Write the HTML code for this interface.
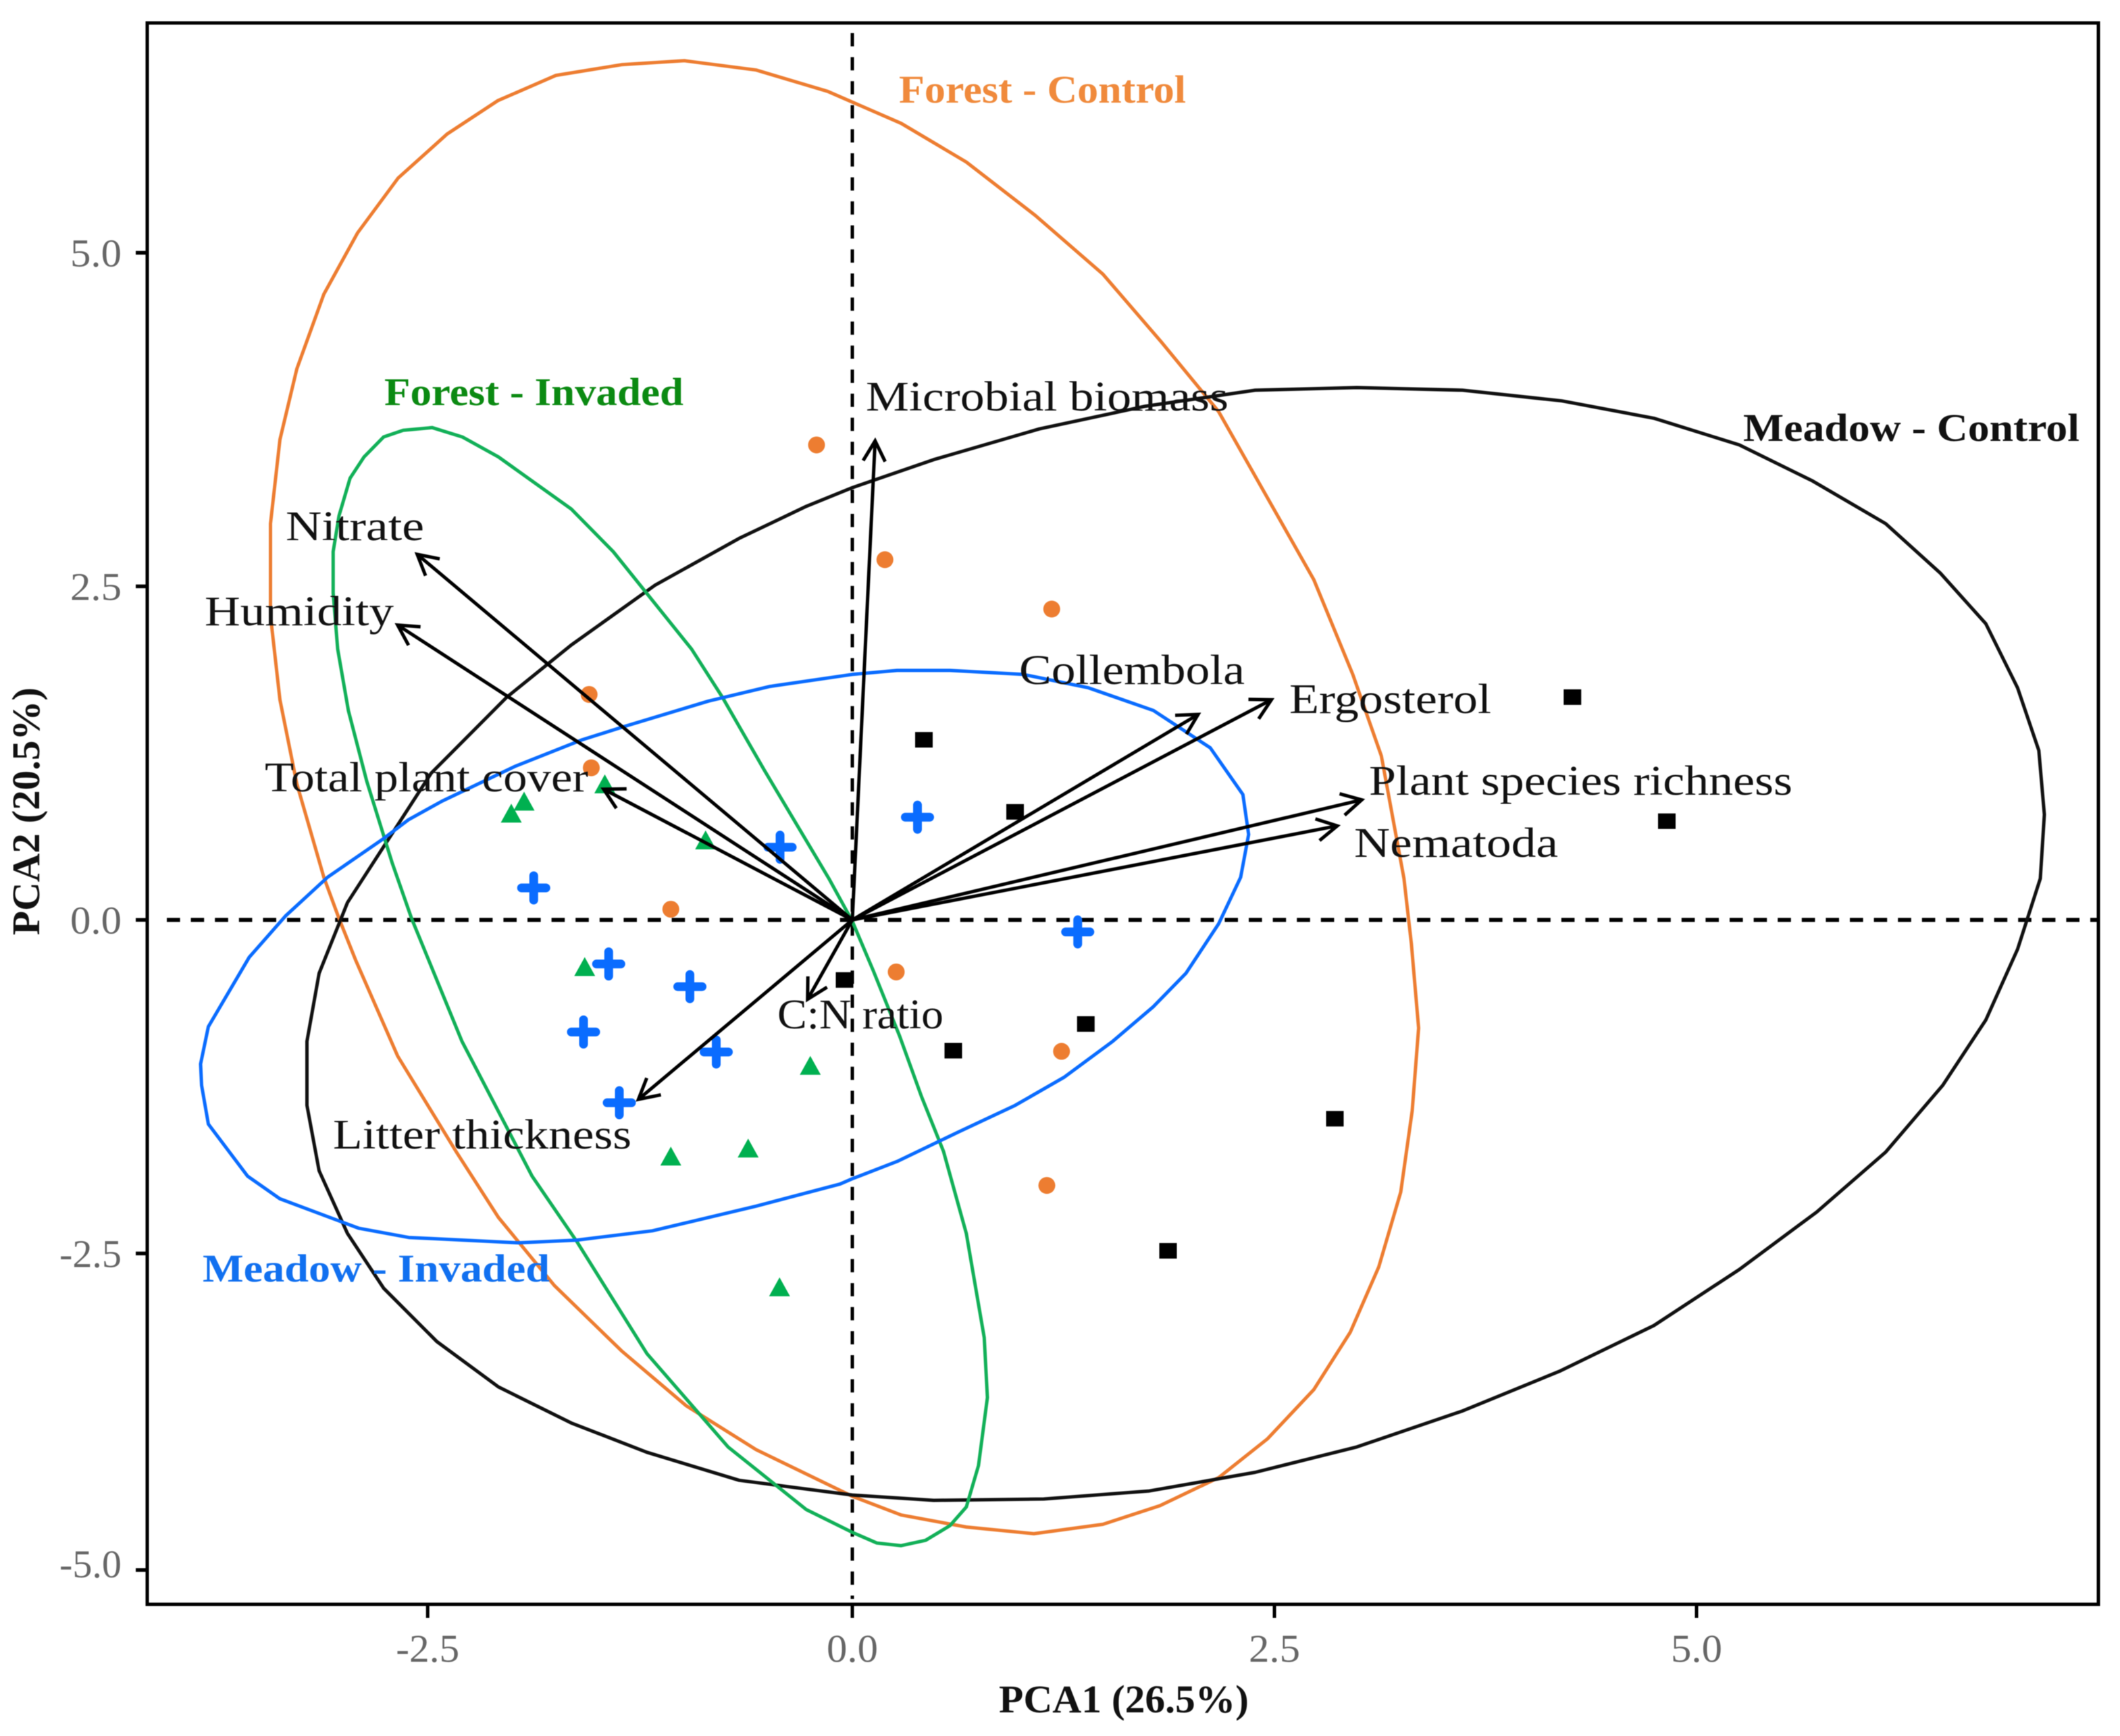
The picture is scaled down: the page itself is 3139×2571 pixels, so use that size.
<!DOCTYPE html>
<html lang="en">
<head>
<meta charset="utf-8">
<title>PCA biplot</title>
<style>
html,body{margin:0;padding:0;background:#fff;}
svg{display:block;filter:blur(0.6px);}
text{font-family:"Liberation Serif",serif;}
.loading{font-size:62px;fill:#111;}
.group{font-size:58px;font-weight:bold;}
.axis-title{font-size:58px;font-weight:bold;fill:#111;}
.tick{font-size:58px;fill:#666;}
</style>
</head>
<body>
<svg id="chart" xmlns="http://www.w3.org/2000/svg" width="3139" height="2571" viewBox="0 0 3139 2571">
  <rect x="0" y="0" width="3139" height="2571" fill="#fff"/>
  <g id="guides"></g>
  <g id="ellipses"></g>
  <g id="points"></g>
  <g id="arrows"></g>
  <g id="axes"></g>
  <rect x="218" y="34" width="2889" height="2342" fill="none" stroke="#000" stroke-width="5"/>

  <text class="loading" x="423" y="800" textLength="205" lengthAdjust="spacingAndGlyphs">Nitrate</text>
  <text class="loading" x="303" y="926" textLength="280" lengthAdjust="spacingAndGlyphs">Humidity</text>
  <text class="loading" x="392" y="1172" textLength="479" lengthAdjust="spacingAndGlyphs">Total plant cover</text>
  <text class="loading" x="1282" y="608" textLength="537" lengthAdjust="spacingAndGlyphs">Microbial biomass</text>
  <text class="loading" x="1509" y="1013" textLength="334" lengthAdjust="spacingAndGlyphs">Collembola</text>
  <text class="loading" x="1909" y="1056" textLength="299" lengthAdjust="spacingAndGlyphs">Ergosterol</text>
  <text class="loading" x="2027" y="1177" textLength="627" lengthAdjust="spacingAndGlyphs">Plant species richness</text>
  <text class="loading" x="2005" y="1269" textLength="302" lengthAdjust="spacingAndGlyphs">Nematoda</text>
  <text class="loading" x="1151" y="1523" textLength="246" lengthAdjust="spacingAndGlyphs">C:N ratio</text>
  <text class="loading" x="493" y="1701" textLength="442" lengthAdjust="spacingAndGlyphs">Litter thickness</text>

  <text class="group" x="1331" y="152" fill="#f08a3c" textLength="425" lengthAdjust="spacingAndGlyphs">Forest - Control</text>
  <text class="group" x="569" y="600" fill="#0b8a12" textLength="443" lengthAdjust="spacingAndGlyphs">Forest - Invaded</text>
  <text class="group" x="2581" y="653" fill="#111" textLength="498" lengthAdjust="spacingAndGlyphs">Meadow - Control</text>
  <text class="group" x="300" y="1898" fill="#1170f0" textLength="514" lengthAdjust="spacingAndGlyphs">Meadow - Invaded</text>

  <text class="axis-title" x="1479" y="2536" textLength="370" lengthAdjust="spacingAndGlyphs">PCA1 (26.5%)</text>
  <text class="axis-title" transform="translate(58 1385) rotate(-90)" x="0" y="0" textLength="367" lengthAdjust="spacingAndGlyphs">PCA2 (20.5%)</text>
</svg>
<script>
const xTickValues = [-2.515, 0, 2.5, 5];
const xTickLabels = ["-2.5", "0.0", "2.5", "5.0"];
const yTickValues = [5, 2.5, 0, -2.5, -4.872];
const yTickLabelValues = [5, 2.5, 0, -2.5, -4.826];
const yTickLabels = ["5.0", "2.5", "0.0", "-2.5", "-5.0"];

const forestControlEllipse = [[-0.995,6.44],[-0.57,6.37],[-0.146,6.21],[0.289,5.97],[0.675,5.68],[1.084,5.28],[1.484,4.84],[1.831,4.33],[2.169,3.81],[2.733,2.55],[2.964,1.84],[3.133,1.23],[3.267,0.31],[3.311,-0.18],[3.354,-0.81],[3.316,-1.43],[3.248,-2.04],[3.118,-2.6],[2.949,-3.09],[2.733,-3.52],[2.458,-3.89],[2.169,-4.18],[1.822,-4.39],[1.484,-4.53],[1.075,-4.6],[0.675,-4.55],[0.289,-4.46],[0,-4.32],[-0.57,-3.97],[-0.985,-3.64],[-1.367,-3.23],[-1.765,-2.74],[-2.096,-2.23],[-2.345,-1.74],[-2.693,-1.02],[-2.942,-0.3],[-3.04,0.01],[-3.13,0.32],[-3.29,1.02],[-3.39,1.65],[-3.446,2.28],[-3.446,2.97],[-3.39,3.6],[-3.29,4.13],[-3.13,4.69],[-2.93,5.15],[-2.69,5.56],[-2.4,5.89],[-2.1,6.14],[-1.755,6.33],[-1.367,6.41]];
const meadowControlEllipse = [[0.482,3.45],[1.108,3.68],[1.735,3.85],[2.386,3.97],[2.988,3.99],[3.614,3.97],[4.202,3.89],[4.747,3.76],[5.253,3.56],[5.687,3.29],[6.12,2.97],[6.443,2.6],[6.713,2.22],[6.901,1.74],[7.027,1.27],[7.06,0.79],[7.036,0.31],[6.901,-0.22],[6.713,-0.75],[6.458,-1.24],[6.12,-1.74],[5.711,-2.19],[5.253,-2.62],[4.747,-3.04],[4.193,-3.38],[3.614,-3.68],[2.988,-3.95],[2.386,-4.14],[1.759,-4.28],[1.133,-4.34],[0.482,-4.35],[0,-4.31],[-0.67,-4.2],[-1.217,-3.99],[-1.665,-3.77],[-2.096,-3.5],[-2.461,-3.16],[-2.776,-2.76],[-2.99,-2.35],[-3.158,-1.88],[-3.23,-1.39],[-3.23,-0.91],[-3.158,-0.4],[-2.99,0.13],[-2.494,1.1],[-2.046,1.67],[-1.665,2.06],[-1.167,2.51],[-0.67,2.86],[-0.272,3.1],[0,3.24]];
const forestInvadedEllipse = [[-2.488,3.69],[-2.66,3.67],[-2.776,3.62],[-2.892,3.47],[-2.975,3.31],[-3.04,3.03],[-3.075,2.76],[-3.075,2.45],[-3.048,2.03],[-2.985,1.57],[-2.876,1.04],[-2.726,0.43],[-2.61,0.01],[-2.312,-0.91],[-1.897,-1.92],[-1.632,-2.41],[-1.217,-3.25],[-0.736,-3.95],[-0.272,-4.42],[0,-4.59],[0.145,-4.67],[0.289,-4.69],[0.434,-4.65],[0.578,-4.54],[0.675,-4.4],[0.747,-4.09],[0.8,-3.58],[0.781,-3.13],[0.675,-2.35],[0.54,-1.735],[0.41,-1.325],[0.28,-0.87],[0.124,-0.38],[0,-0.01],[-0.139,0.31],[-0.52,1.12],[-0.77,1.67],[-0.952,2.03],[-1.416,2.76],[-1.665,3.08],[-2.096,3.47],[-2.31,3.62]];
const meadowInvadedEllipse = [[-0.488,1.75],[0,1.84],[0.265,1.87],[0.578,1.87],[1.012,1.84],[1.398,1.74],[1.783,1.57],[2.12,1.29],[2.313,0.94],[2.347,0.64],[2.3,0.32],[2.169,-0.03],[1.976,-0.4],[1.783,-0.65],[1.542,-0.91],[1.253,-1.18],[0.964,-1.39],[0.627,-1.59],[0.265,-1.81],[0,-1.94],[-0.073,-1.98],[-0.57,-2.145],[-1.184,-2.33],[-1.632,-2.4],[-1.98,-2.42],[-2.627,-2.38],[-2.925,-2.31],[-3.39,-2.09],[-3.582,-1.92],[-3.814,-1.53],[-3.854,-1.24],[-3.86,-1.08],[-3.814,-0.8],[-3.572,-0.28],[-3.357,0.03],[-3.108,0.32],[-2.776,0.61],[-2.63,0.75],[-2.43,0.89],[-2,1.15],[-1.6,1.35],[-1.35,1.45],[-0.852,1.64]];

const meadowControlPoints = [[4.265,1.67],[0.424,1.35],[0.964,0.81],[4.824,0.74],[-0.046,-0.45],[1.383,-0.78],[0.598,-0.98],[2.858,-1.49],[1.87,-2.48]];
const forestControlPoints = [[-0.212,3.56],[-1.559,1.69],[-1.546,1.14],[0.193,2.7],[1.181,2.33],[-1.075,0.08],[0.26,-0.39],[1.239,-0.985],[1.152,-1.99]];
const forestInvadedPoints = [[-1.466,1.01],[-1.944,0.88],[-2.02,0.79],[-0.869,0.59],[-1.585,-0.36],[-0.249,-1.1],[-1.075,-1.78],[-0.617,-1.72],[-0.431,-2.76]];
const meadowInvadedPoints = [[-0.428,0.545],[0.386,0.77],[-1.887,0.24],[-1.443,-0.33],[-0.962,-0.5],[-1.592,-0.84],[-0.806,-0.99],[-1.38,-1.37],[1.335,-0.09]];

const loadingNames = ["nitrate","humidity","total-plant-cover","microbial-biomass","collembola","ergosterol","plant-species-richness","nematoda","cn-ratio","litter-thickness"];
const loadingX = [-2.577,-2.693,-1.473,0.135,2.048,2.482,3.017,2.872,-0.265,-1.267];
const loadingY = [2.74,2.21,0.98,3.59,1.54,1.65,0.9,0.705,-0.595,-1.345];

const NS = "http://www.w3.org/2000/svg";
function sx(v){ return 1262 + 250 * v; }
function sy(v){ return 1362.4 - 197.6 * v; }
function make(parent, tag){
  const el = document.createElementNS(NS, tag);
  document.getElementById(parent).appendChild(el);
  return el;
}
function line(parent, x1, y1, x2, y2, stroke, width){
  const l = make(parent, "line");
  l.setAttribute("x1", x1);
  l.setAttribute("y1", y1);
  l.setAttribute("x2", x2);
  l.setAttribute("y2", y2);
  l.setAttribute("stroke", stroke);
  l.setAttribute("stroke-width", width);
  return l;
}

/* guides */
const hGuide = line("guides", 247, sy(0), 3107, sy(0), "#000", 6);
hGuide.setAttribute("stroke-dasharray", "19.6 16");


const vGuide = line("guides", sx(0), 49, sx(0), 2368, "#000", 5);
vGuide.setAttribute("stroke-dasharray", "19.6 16");



/* ellipses */
function drawEllipse(points, color, name){
  const p = make("ellipses", "polygon");
  p.setAttribute("points", points.map(function(d){ return sx(d[0]).toFixed(1) + "," + sy(d[1]).toFixed(1); }).join(" "));
  p.setAttribute("fill", "none");
  p.setAttribute("stroke", color);
  p.setAttribute("stroke-width", "5");
  p.setAttribute("stroke-linejoin", "round");
  
  
}
drawEllipse(forestControlEllipse, "#ed7d31", "ellipse-forest-control");
drawEllipse(meadowControlEllipse, "#111111", "ellipse-meadow-control");
drawEllipse(forestInvadedEllipse, "#12b058", "ellipse-forest-invaded");
drawEllipse(meadowInvadedEllipse, "#0a6cff", "ellipse-meadow-invaded");

/* points */
forestControlPoints.forEach(function(d){
  const c = make("points", "circle");
  c.setAttribute("cx", sx(d[0]));
  c.setAttribute("cy", sy(d[1]));
  c.setAttribute("r", 12.5);
  c.setAttribute("fill", "#ed7d31");
  
  
});
meadowControlPoints.forEach(function(d){
  const r = make("points", "rect");
  r.setAttribute("x", sx(d[0]) - 13);
  r.setAttribute("y", sy(d[1]) - 11.5);
  r.setAttribute("width", 26);
  r.setAttribute("height", 23);
  r.setAttribute("fill", "#000");
  
  
});
forestInvadedPoints.forEach(function(d){
  const cx = sx(d[0]), cy = sy(d[1]);
  const t = make("points", "polygon");
  t.setAttribute("points", cx + "," + (cy - 16) + " " + (cx + 15.5) + "," + (cy + 12) + " " + (cx - 15.5) + "," + (cy + 12));
  t.setAttribute("fill", "#00b050");
  
  
});
meadowInvadedPoints.forEach(function(d){
  const cx = sx(d[0]), cy = sy(d[1]);
  const p = make("points", "path");
  p.setAttribute("d", "M" + (cx - 18) + " " + cy + "H" + (cx + 18) + "M" + cx + " " + (cy - 18) + "V" + (cy + 18));
  p.setAttribute("stroke", "#0a6cff");
  p.setAttribute("stroke-width", "13");
  p.setAttribute("stroke-linecap", "round");
  p.setAttribute("fill", "none");
  
  
});

/* arrows */
loadingNames.forEach(function(name, i){
  const x0 = sx(0), y0 = sy(0), x1 = sx(loadingX[i]), y1 = sy(loadingY[i]);
  const a = Math.atan2(y0 - y1, x0 - x1);
  const head = 34, spread = 0.5;
  const p = make("arrows", "path");
  p.setAttribute("d", "M" + x0 + " " + y0 + "L" + x1 + " " + y1 +
    "M" + (x1 + head * Math.cos(a + spread)) + " " + (y1 + head * Math.sin(a + spread)) +
    "L" + x1 + " " + y1 +
    "L" + (x1 + head * Math.cos(a - spread)) + " " + (y1 + head * Math.sin(a - spread)));
  p.setAttribute("fill", "none");
  p.setAttribute("stroke", "#000");
  p.setAttribute("stroke-width", "5");
  
  
});

/* axes */
xTickValues.forEach(function(v, i){
  const t = line("axes", sx(v), 2376, sx(v), 2396, "#000", 5);
  
  
  const lab = make("axes", "text");
  lab.setAttribute("x", sx(v));
  lab.setAttribute("y", 2461);
  lab.setAttribute("text-anchor", "middle");
  lab.setAttribute("class", "tick");
  lab.setAttribute("textLength", 76 + (xTickLabels[i].length - 3) * 18);
  lab.setAttribute("lengthAdjust", "spacingAndGlyphs");
  
  
  lab.textContent = xTickLabels[i];
});
yTickValues.forEach(function(v, i){
  const t = line("axes", 201, sy(v), 218, sy(v), "#000", 5.5);
  
  
  const lab = make("axes", "text");
  lab.setAttribute("x", 180);
  lab.setAttribute("y", sy(yTickLabelValues[i]) + 20);
  lab.setAttribute("text-anchor", "end");
  lab.setAttribute("class", "tick");
  lab.setAttribute("textLength", 76 + (yTickLabels[i].length - 3) * 16);
  lab.setAttribute("lengthAdjust", "spacingAndGlyphs");
  
  
  lab.textContent = yTickLabels[i];
});
</script>
</body>
</html>
